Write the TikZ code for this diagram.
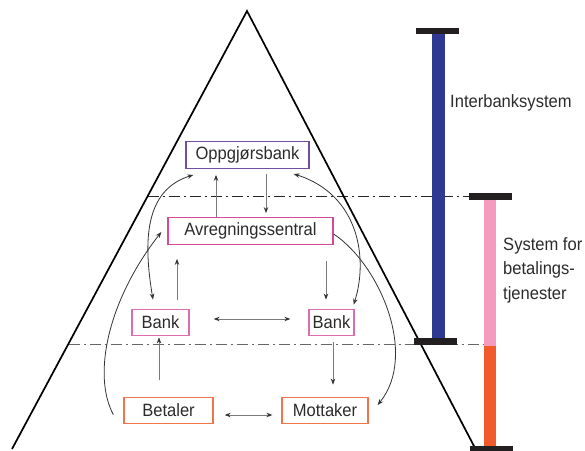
\documentclass[tikz,border=0pt]{standalone}
\usepackage{fontspec}
\setmainfont{Liberation Sans}[FakeStretch=0.93]
\usetikzlibrary{arrows.meta}
\definecolor{txt}{HTML}{2B2B2B}
\definecolor{oppc}{HTML}{6E4FA0}
\definecolor{bankc}{HTML}{D5489E}
\definecolor{orc}{HTML}{F2754A}
\definecolor{bluebar}{HTML}{2E3A92}
\definecolor{pinkbar}{HTML}{F49BBE}
\definecolor{orbar}{HTML}{F15A2B}
\definecolor{capc}{HTML}{231F20}
\definecolor{lineg}{HTML}{7A7A7A}
\definecolor{lined}{HTML}{333333}
\tikzset{
  box/.style={draw, line width=1.3pt, minimum height=26.5pt, inner sep=0pt, text=txt,
    font=\fontsize{17.8}{21}\selectfont},
  lbl/.style={text=txt, inner sep=0pt, font=\fontsize{17.8}{24.5}\selectfont},
  sarr/.style={draw=lineg, line width=0.8pt, -{Stealth[length=6pt,width=4.5pt,color=lined]}},
  sdbl/.style={draw=lineg, line width=0.8pt, {Stealth[length=6pt,width=4.5pt,color=lined]}-{Stealth[length=6pt,width=4.5pt,color=lined]}},
  carr/.style={draw=lined, line width=0.8pt, -{Stealth[length=6pt,width=4.5pt]}},
  cdbl/.style={draw=lined, line width=0.8pt, {Stealth[length=6pt,width=4.5pt]}-{Stealth[length=6pt,width=4.5pt]}},
  dashdot/.style={line width=1pt, dash pattern=on 11pt off 4pt on 2pt off 4pt},
  capbar/.style={fill=capc},
}
\begin{document}
\begin{tikzpicture}[x=1pt,y=-1pt]
\useasboundingbox (0,0) rectangle (585,450);
% dash-dot levels
\draw[dashdot, draw=black!85] (147.5,196) -- (469,196);
\draw[dashdot, draw=black!60] (68.5,344) -- (484,344);
% triangle
\draw[line width=1.7pt, line join=miter] (12,449) -- (247,11) -- (475,448);
% bars
\fill[bluebar] (432,34) rectangle (445,338);
\fill[capbar] (416,28) rectangle (459,34);
\fill[capbar] (414,338) rectangle (457,345);
\fill[pinkbar] (484,200) rectangle (496,346);
\fill[orbar] (484,346) rectangle (496,447);
\fill[capbar] (469,193) rectangle (512,200);
\fill[capbar] (470,446) rectangle (513,451);
% labels
\node[lbl, anchor=west] (inter) at (450,103) {Interbanksystem};
\node[lbl, anchor=west, align=left] (sys) at (503,270) {System for\\betalings-\\tjenester};
% boxes
\node[box, draw=oppc, minimum width=123pt] (opp) at (247.5,155) {Oppgjørsbank};
\node[box, draw=bankc, minimum width=165pt] (avr) at (250.5,231) {Avregningssentral};
\node[box, draw=bankc!80, minimum width=57pt] (bankL) at (160.5,322.5) {Bank};
\node[box, draw=bankc!80, minimum width=45pt] (bankR) at (331.5,322.5) {Bank};
\node[box, draw=orc, minimum width=89pt] (bet) at (168.5,410.5) {Betaler};
\node[box, draw=orc, minimum width=86pt] (mot) at (325,410.5) {Mottaker};
% straight connectors
\draw[sarr] ([xshift=-34.5pt]avr.north) -- ([xshift=-31.5pt,yshift=-6pt]opp.south);
\draw[sarr] ([xshift=18.5pt,yshift=-5pt]opp.south) -- ([xshift=15.5pt,yshift=4pt]avr.north);
\draw[sarr] ([xshift=75.5pt,yshift=-16pt]avr.south) -- ([xshift=-5.5pt,yshift=9pt]bankR.north);
\draw[sarr] ([xshift=16.5pt,yshift=9pt]bankL.north) -- ([xshift=-73.5pt,yshift=-14pt]avr.south);
\draw[sdbl] ([xshift=24pt,yshift=3.5pt]bankL.east) -- ([xshift=-18pt,yshift=3.5pt]bankR.west);
\draw[sarr] ([xshift=1.5pt,yshift=-6pt]bankR.south) -- ([xshift=8pt,yshift=12pt]mot.north);
\draw[sarr] ([xshift=-9.5pt,yshift=17pt]bet.north) -- ([xshift=-1.5pt,yshift=-1pt]bankL.south);
\draw[sdbl] ([xshift=11pt,yshift=-4.5pt]bet.east) -- ([xshift=-9pt,yshift=-4.5pt]mot.west);
% curved connectors
\draw[cdbl] ([xshift=-7.5pt,yshift=9pt]bankL.north) .. controls (143,240) and (145,190) .. ([xshift=8pt,yshift=-6pt]opp.south west);
\draw[carr] ([xshift=-10pt,yshift=-18pt]bet.north west) .. controls (92,375) and (108,300) .. ([xshift=-6pt,yshift=-1pt]avr.west);
\draw[cdbl] ([xshift=-1pt,yshift=4pt]bankR.north east) .. controls (368,260) and (360,195) .. ([xshift=-16pt,yshift=-5pt]opp.south east);
\draw[carr] ([yshift=-3pt]avr.east) .. controls (380,265) and (418,355) .. ([xshift=9pt,yshift=5.5pt]mot.east);
\end{tikzpicture}
\end{document}
